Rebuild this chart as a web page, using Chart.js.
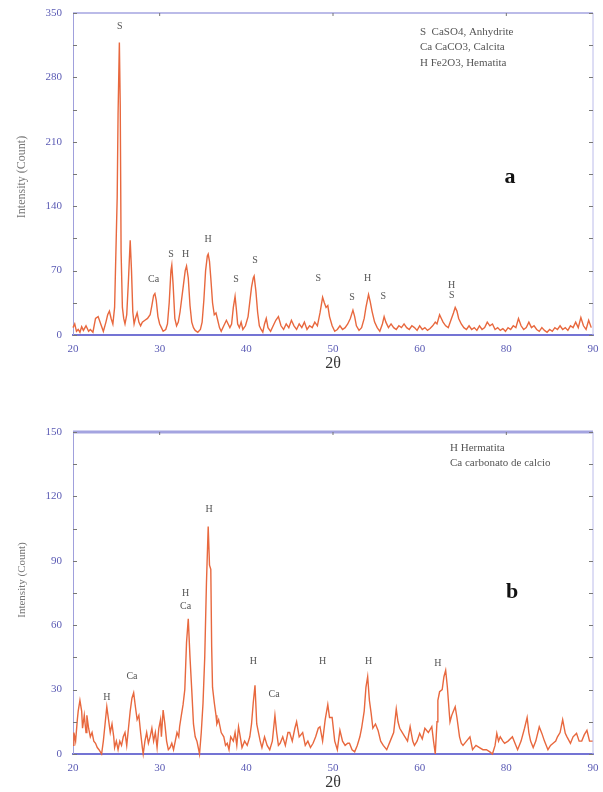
<!DOCTYPE html>
<html>
<head>
<meta charset="utf-8">
<script src="https://cdn.jsdelivr.net/npm/chart.js@4.4.0/dist/chart.umd.min.js"></script>
<style>
  html, body { margin: 0; padding: 0; background: #fff; }
  .panel { position: absolute; left: 0; width: 603px; }
  #panelA { top: 0; height: 395px; }
  #panelB { top: 395px; height: 397px; }
</style>
</head>
<body>
<div class="panel" id="panelA"><canvas id="chartA"></canvas></div>
<div class="panel" id="panelB"><canvas id="chartB"></canvas></div>
<script>
// x tick labels as printed on the original figure
const xTickLabels = ['20', '30', '40', '50', '60', '80', '90'];

// Panel a - 2theta (deg) and intensity (count)
const twoThetaA = [20.0,20.2,20.4,20.6,20.8,21.0,21.2,21.5,21.8,22.0,22.3,22.6,22.9,23.2,23.5,23.8,24.0,24.2,24.4,24.6,24.8,25.0,25.1,25.2,25.35,25.45,25.55,25.7,25.85,26.0,26.2,26.4,26.6,26.75,26.9,27.05,27.2,27.4,27.6,27.8,28.0,28.3,28.6,28.9,29.1,29.3,29.45,29.6,29.8,30.0,30.2,30.4,30.7,30.9,31.1,31.3,31.4,31.55,31.75,31.95,32.15,32.35,32.55,32.75,32.95,33.1,33.3,33.5,33.7,33.9,34.1,34.4,34.7,34.9,35.1,35.3,35.5,35.6,35.75,35.9,36.1,36.3,36.5,36.7,36.9,37.1,37.4,37.7,37.9,38.1,38.3,38.5,38.7,38.85,39.0,39.2,39.4,39.6,39.9,40.2,40.4,40.6,40.8,40.9,41.1,41.3,41.5,41.7,41.9,42.1,42.3,42.5,42.8,43.1,43.4,43.7,44.0,44.3,44.6,44.9,45.2,45.5,45.8,46.1,46.4,46.7,47.0,47.3,47.6,47.9,48.2,48.5,48.8,49.0,49.2,49.4,49.6,49.9,50.2,50.5,50.8,51.1,51.4,51.7,52.0,52.3,52.5,52.7,53.0,53.3,53.6,53.8,54.1,54.3,54.5,54.8,55.1,55.4,55.7,55.9,56.1,56.4,56.7,57.0,57.3,57.6,57.9,58.2,58.5,58.8,59.1,59.4,59.7,60.0,60.3,60.6,60.9,61.2,61.5,61.8,62.0,62.3,62.5,62.7,63.0,63.3,63.6,63.9,64.1,64.3,64.5,64.8,65.1,65.4,65.7,66.0,66.3,66.6,66.9,67.2,67.5,67.8,68.1,68.4,68.7,69.0,69.3,69.6,69.9,70.2,70.5,70.8,71.1,71.4,71.7,72.0,72.3,72.6,72.9,73.2,73.5,73.8,74.1,74.4,74.7,75.0,75.3,75.6,75.9,76.2,76.5,76.8,77.1,77.4,77.7,78.0,78.3,78.6,78.9,79.2,79.5,79.8];
const countsA = [8,12,4,6,3,9,5,10,4,6,3,18,20,12,4,14,22,26,18,12,30,110,150,240,318,250,90,30,18,12,22,60,103,70,25,12,18,24,14,10,14,16,18,22,32,43,45,38,20,12,8,4,6,12,35,70,76,55,18,10,14,25,40,55,70,75,62,32,14,8,5,3,6,14,38,70,86,88,80,62,35,22,24,16,8,4,10,16,12,8,12,30,42,28,12,8,14,6,10,20,36,52,62,64,48,25,10,6,3,12,18,8,4,10,16,20,10,6,12,8,16,10,6,12,8,14,6,10,8,14,10,24,41,35,30,32,20,10,4,6,10,6,8,12,18,27,20,10,5,8,18,30,44,36,26,14,8,4,12,20,14,8,12,8,6,10,8,12,8,6,10,8,5,10,6,8,5,7,10,14,12,22,18,14,10,8,16,24,30,26,18,12,8,6,10,6,8,5,10,6,8,14,10,12,6,8,5,7,4,8,6,10,8,18,10,6,8,14,8,10,6,4,8,5,3,6,4,8,6,10,6,8,5,10,8,14,8,19,10,6,16,8];

// Panel b
const twoThetaB = [20.0,20.1,20.3,20.5,20.6,20.8,21.0,21.1,21.3,21.5,21.6,21.8,22.0,22.2,22.4,22.6,22.8,23.0,23.3,23.5,23.7,23.9,24.1,24.3,24.5,24.7,24.8,25.0,25.2,25.4,25.6,25.8,26.0,26.2,26.4,26.6,26.8,27.0,27.2,27.4,27.6,27.8,28.0,28.1,28.3,28.5,28.7,28.9,29.1,29.3,29.5,29.7,29.9,30.1,30.2,30.4,30.6,30.8,31.0,31.2,31.4,31.6,31.8,32.0,32.2,32.3,32.5,32.7,32.9,33.1,33.3,33.5,33.7,33.9,34.1,34.3,34.6,34.8,35.0,35.2,35.4,35.6,35.75,35.9,36.0,36.1,36.3,36.5,36.6,36.8,37.1,37.4,37.6,37.8,38.0,38.2,38.5,38.7,38.9,39.1,39.3,39.5,39.8,40.1,40.4,40.6,40.8,41.0,41.2,41.4,41.6,41.8,42.1,42.4,42.7,43.0,43.3,43.5,43.7,43.9,44.2,44.5,44.8,45.0,45.3,45.6,45.8,46.1,46.5,46.8,47.1,47.4,47.7,48.0,48.3,48.5,48.8,49.1,49.4,49.6,49.9,50.2,50.5,50.8,51.1,51.4,51.7,51.9,52.2,52.5,52.8,53.1,53.3,53.6,53.8,54.0,54.2,54.4,54.6,54.9,55.2,55.5,55.8,56.2,56.6,57.0,57.3,57.5,57.7,58.0,58.3,58.6,58.9,59.2,59.4,59.7,60.0,60.3,60.6,61.0,61.4,61.6,61.8,62.0,62.1,62.3,62.6,62.8,63.0,63.2,63.4,63.5,63.7,63.9,64.1,64.3,64.6,64.8,65.0,65.4,65.8,66.1,66.5,66.9,67.3,67.7,68.1,68.4,68.7,68.9,69.1,69.3,69.6,69.8,70.2,70.7,71.0,71.3,71.7,72.1,72.4,72.6,72.8,73.1,73.4,73.8,74.1,74.4,74.8,75.1,75.4,75.7,75.9,76.2,76.5,76.8,77.0,77.4,77.7,78.1,78.4,78.7,79.0,79.3,79.6,80.0,80.2,80.5,80.8];
const countsB = [4,10,6,16,20,25,20,12,18,10,18,12,8,10,6,5,3,2,0,6,14,22,16,10,14,8,3,6,2,6,4,8,10,4,12,20,26,28.5,22,16,18,10,3,0,6,10,5,8,12,6,10,3,12,16,8,20.5,14,6,2,3,5,2,6,10,8,12.7,18,23,30,52,63,45,30,14,8,6,0,10,23.5,45,80,106,88,86,50,31,24,18,14,16,10,8,4,5,2,8,6,10,4,12.7,8,3,6,4,8,14,24,32,14,10,6,3,8,4,2,6,18,10,4,5,8,4,10,10,6,12,15,8,10,4,6,3,5,8,12,12.7,6,16,23,17,17,6,2,11,6,4,5,5,2,1,4,8,12,20,31,36,25,19,12,14,11,6,4,2,6,10,21,15,12,10,8,6,12.7,6,4,6,9.6,7,12,10,12.7,6,0,15,25,29,30,36,39,31,20,15,18,20,22,17,8,5,4,6,8,2,4,3,2,2,1,0,4,9.6,6,8,6,5,6,8,5,2,6,12,17,10,6,3,6,12.7,9.6,6,2,4,5,6,8,10,16,9.6,8,5,8,9.6,6,6,9,11,6,6,12,15,17];

// Phase labels over the peaks: [text, 2theta, count]
const peakLabelsA = [['S',25.4,336],['Ca',29.3,60],['S',31.3,88],['H',33.0,88],['H',35.6,104],['S',38.8,60],['S',41.0,81],['S',48.3,62],['S',52.2,41],['H',54.0,62],['S',55.8,42],['H',63.7,54],['S',63.7,43]];
const peakLabelsB = [['H',35.7,114],['H',33.0,75],['Ca',33.0,69],['H',23.9,26.5],['Ca',26.8,36],['H',40.8,43],['Ca',43.2,28],['H',48.8,43],['H',54.1,43],['H',62.1,42]];

const legendA = ['S  CaSO4, Anhydrite', 'Ca CaCO3, Calcita', 'H Fe2O3, Hematita'];
const legendB = ['H Hermatita', 'Ca carbonato de calcio'];

const serif = "'Liberation Serif', 'DejaVu Serif', serif";

// frame, inward ticks and all the loose text
const decorPlugin = {
  id: 'decor',
  afterDraw(chart, args, o) {
    const {ctx, chartArea: a, scales: {x, y}} = chart;
    ctx.save();
    // top and right frame
    ctx.strokeStyle = '#a4a4e0';
    ctx.lineWidth = o.topWidth;
    ctx.beginPath(); ctx.moveTo(a.left, a.top); ctx.lineTo(a.right, a.top); ctx.stroke();
    ctx.lineWidth = 1;
    ctx.strokeStyle = '#bcbcea';
    ctx.beginPath(); ctx.moveTo(a.right, a.top); ctx.lineTo(a.right, a.bottom); ctx.stroke();
    // inward ticks
    ctx.strokeStyle = '#777';
    ctx.lineWidth = 1;
    for (let v = 0; v <= y.max; v += o.yStep / 2) {
      const py = Math.round(y.getPixelForValue(v)) + 0.5;
      ctx.beginPath();
      ctx.moveTo(a.left, py); ctx.lineTo(a.left + 4, py);
      ctx.moveTo(a.right, py); ctx.lineTo(a.right - 4, py);
      ctx.stroke();
    }
    for (let v = 30; v < 80; v += 20) {
      const px = x.getPixelForValue(v);
      ctx.beginPath(); ctx.moveTo(px, a.top); ctx.lineTo(px, a.top + 3); ctx.stroke();
    }
    // peak labels
    ctx.fillStyle = '#555';
    ctx.font = '10px ' + serif;
    ctx.textAlign = 'center';
    ctx.textBaseline = 'middle';
    o.peaks.forEach(([t, tx, ty]) => {
      ctx.fillText(t, x.getPixelForValue(tx), y.getPixelForValue(ty));
    });
    // legend text
    ctx.textAlign = 'left';
    ctx.font = '11px ' + serif;
    o.legend.forEach((t, i) => ctx.fillText(t, o.legendX, o.legendY + i * 15.5));
    // panel letter
    ctx.fillStyle = '#111';
    ctx.font = 'bold 22px ' + serif;
    ctx.textAlign = 'center';
    ctx.fillText(o.letter, o.letterX, o.letterY);
    // axis titles
    ctx.fillStyle = '#333';
    ctx.font = '16px ' + serif;
    ctx.fillText('2θ', (a.left + a.right) / 2, a.bottom + 29);
    ctx.fillStyle = '#777';
    ctx.font = o.yTitleSize + 'px ' + serif;
    ctx.translate(22, o.yTitleY);
    ctx.rotate(-Math.PI / 2);
    ctx.fillText('Intensity (Count)', 0, 0);
    ctx.restore();
  }
};

function makeChart(id, xs, ys, cfg) {
  new Chart(document.getElementById(id), {
    type: 'line',
    data: {
      datasets: [{
        data: xs.map((v, i) => ({ x: v, y: ys[i] })),
        borderColor: '#e8683e',
        borderWidth: 1.4,
        pointRadius: 0,
        tension: 0,
        clip: false
      }]
    },
    options: {
      responsive: true,
      maintainAspectRatio: false,
      animation: false,
      layout: { padding: { top: cfg.padTop, right: 10, left: 0, bottom: 0 } },
      plugins: {
        legend: { display: false },
        tooltip: { enabled: false },
        decor: cfg.decor
      },
      scales: {
        x: {
          type: 'linear',
          min: 20,
          max: 80,
          afterFit: s => { s.height = cfg.xHeight; s.paddingLeft = 0; s.paddingRight = 0; },
          grid: { display: false, drawTicks: false },
          border: { display: true, color: '#7474d4', width: 2 },
          ticks: {
            stepSize: 10,
            padding: 8,
            color: '#5a5ab4',
            font: { family: serif, size: 11 },
            maxRotation: 0,
            callback: (v, i) => xTickLabels[i]
          }
        },
        y: {
          min: 0,
          max: cfg.yMax,
          afterFit: s => { s.width = 73; s.paddingTop = 0; s.paddingBottom = 0; },
          grid: { display: false, drawTicks: false },
          border: { display: true, color: '#a0a0dc', width: 1 },
          ticks: {
            stepSize: cfg.yStep,
            padding: 11,
            color: '#5a5ab4',
            font: { family: serif, size: 11 }
          }
        }
      }
    },
    plugins: [decorPlugin]
  });
}

makeChart('chartA', twoThetaA, countsA, {
  padTop: 13, xHeight: 60, yMax: 350, yStep: 70,
  decor: { topWidth: 1.5, yStep: 70, peaks: peakLabelsA, legend: legendA, legendX: 420, legendY: 32,
           letter: 'a', letterX: 510, letterY: 177, yTitleY: 177, yTitleSize: 12 }
});

makeChart('chartB', twoThetaB, countsB, {
  padTop: 37, xHeight: 38, yMax: 150, yStep: 30,
  decor: { topWidth: 3, yStep: 30, peaks: peakLabelsB, legend: legendB, legendX: 450, legendY: 53,
           letter: 'b', letterX: 512, letterY: 197, yTitleY: 185, yTitleSize: 11 }
});
</script>
</body>
</html>
